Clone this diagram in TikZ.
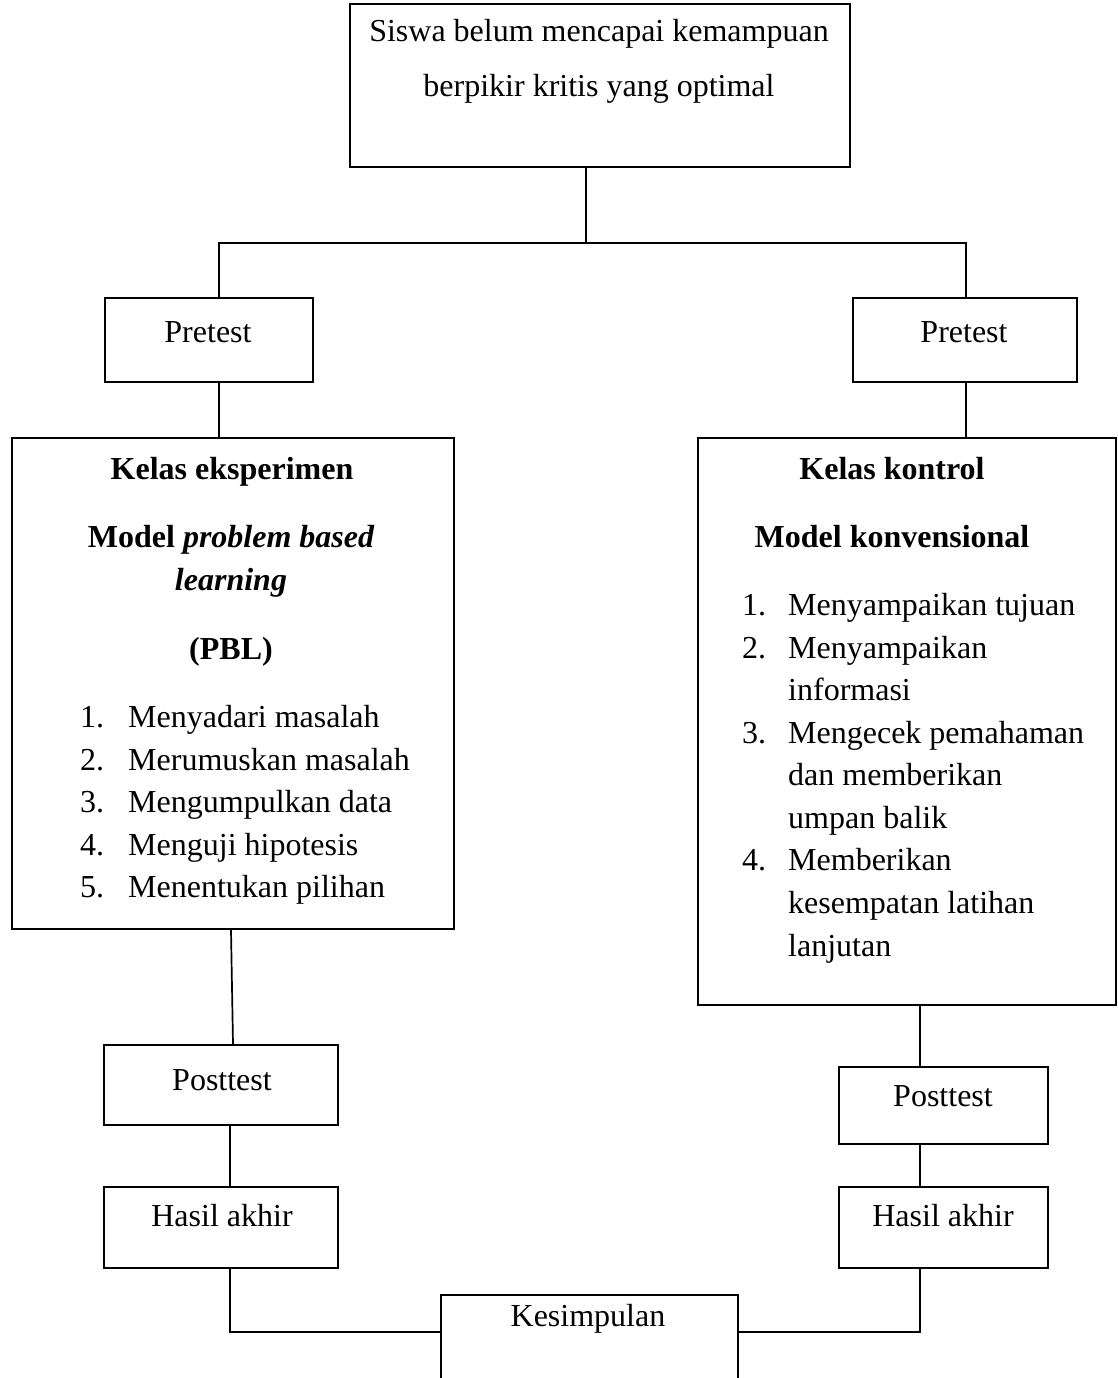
\documentclass[tikz,border=0pt]{standalone}
\usepackage{fontspec}
\setmainfont{Liberation Serif}
\begin{document}
\begin{tikzpicture}[x=1pt,y=-1pt,
  box/.style={draw, line width=1.9pt, rectangle, inner sep=0pt, anchor=north west},
  txt/.style={inner sep=0pt, font=\fontsize{32}{42}\selectfont},
  ctxt/.style={txt, anchor=base},
  ltxt/.style={txt, anchor=base west},
  conn/.style={line width=1.7pt}]
\clip (0,0) rectangle (1117,1378);
% boxes
\node[box, minimum width=500, minimum height=163] (top) at (349,3) {};
\node[box, minimum width=208, minimum height=84] (lpre) at (104,297) {};
\node[box, minimum width=224, minimum height=84] (rpre) at (852,297) {};
\node[box, minimum width=442, minimum height=491] (lbig) at (11,437) {};
\node[box, minimum width=418, minimum height=567] (rbig) at (697,437) {};
\node[box, minimum width=234, minimum height=80] (lpost) at (103,1044) {};
\node[box, minimum width=209, minimum height=77] (rpost) at (838,1066) {};
\node[box, minimum width=234, minimum height=81] (lhas) at (103,1186) {};
\node[box, minimum width=209, minimum height=81] (rhas) at (838,1186) {};
\node[box, minimum width=297, minimum height=100] (kes) at (440,1294) {};
% texts
\node[ctxt] (t1) at (599,42) {Siswa belum mencapai kemampuan};
\node[ctxt] (t2) at (599,97) {berpikir kritis yang optimal};
\node[ctxt] (lpret) at (208,342) {Pretest};
\node[ctxt] (rpret) at (964,342) {Pretest};
\node[ctxt] (lk1) at (232,479) {\bfseries Kelas eksperimen};
\node[ctxt] (lk2) at (231,547) {\bfseries Model \itshape problem based};
\node[ctxt] (lk3) at (231,590) {\bfseries\itshape learning};
\node[ctxt] (lk4) at (231,659) {\bfseries (PBL)};
\node[ltxt] (ln1) at (80,727) {1.};
\node[ltxt] (ln2) at (80,770) {2.};
\node[ltxt] (ln3) at (80,812) {3.};
\node[ltxt] (ln4) at (80,855) {4.};
\node[ltxt] (ln5) at (80,897) {5.};
\node[ltxt] (li1) at (128,727) {Menyadari masalah};
\node[ltxt] (li2) at (128,770) {Merumuskan masalah};
\node[ltxt] (li3) at (128,812) {Mengumpulkan data};
\node[ltxt] (li4) at (128,855) {Menguji hipotesis};
\node[ltxt] (li5) at (128,897) {Menentukan pilihan};
\node[ctxt] (rk1) at (892,479) {\bfseries Kelas kontrol};
\node[ctxt] (rk2) at (892,547) {\bfseries Model konvensional};
\node[ltxt] (rn1) at (742,615) {1.};
\node[ltxt] (rn2) at (742,658) {2.};
\node[ltxt] (rn3) at (742,743) {3.};
\node[ltxt] (rn4) at (742,870) {4.};
\node[ltxt] (ri1) at (788,615) {Menyampaikan tujuan};
\node[ltxt] (ri2) at (788,658) {Menyampaikan};
\node[ltxt] (ri3) at (788,700) {informasi};
\node[ltxt] (ri4) at (788,743) {Mengecek pemahaman};
\node[ltxt] (ri5) at (788,785) {dan memberikan};
\node[ltxt] (ri6) at (788,828) {umpan balik};
\node[ltxt] (ri7) at (788,870) {Memberikan};
\node[ltxt] (ri8) at (788,913) {kesempatan latihan};
\node[ltxt] (ri9) at (788,956) {lanjutan};
\node[ctxt] (lpostt) at (222,1090) {Posttest};
\node[ctxt] (rpostt) at (943,1106) {Posttest};
\node[ctxt] (lhast) at (222,1226) {Hasil akhir};
\node[ctxt] (rhast) at (943,1226) {Hasil akhir};
\node[ctxt] (kest) at (588,1326) {Kesimpulan};
% connector coordinates
\coordinate (xa) at (586,0);
\coordinate (xl) at (219,0);
\coordinate (xr) at (966,0);
\coordinate (jt) at (586,243);
\coordinate (xl2) at (231,0);
\coordinate (xl3) at (233,0);
\coordinate (xl4) at (230,0);
\coordinate (xr2) at (920,0);
\coordinate (jk) at (0,1332);
% connectors
\draw[conn] (top.south -| xa) -- (jt);
\draw[conn] (lpre.north -| xl) |- (jt) -| (rpre.north -| xr);
\draw[conn] (lpre.south -| xl) -- (lbig.north -| xl);
\draw[conn] (rpre.south -| xr) -- (rbig.north -| xr);
\draw[conn] (lbig.south -| xl2) -- (lpost.north -| xl3);
\draw[conn] (lpost.south -| xl4) -- (lhas.north -| xl4);
\draw[conn] (lhas.south -| xl4) |- (kes.west |- jk);
\draw[conn] (rbig.south -| xr2) -- (rpost.north -| xr2);
\draw[conn] (rpost.south -| xr2) -- (rhas.north -| xr2);
\draw[conn] (rhas.south -| xr2) |- (kes.east |- jk);
\end{tikzpicture}
\end{document}
